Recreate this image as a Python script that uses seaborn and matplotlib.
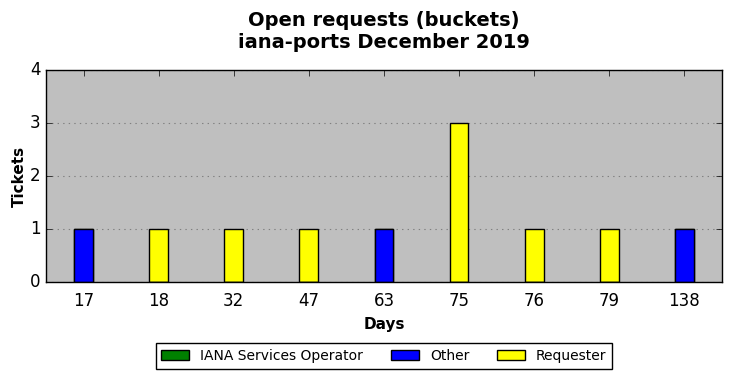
import numpy as np
import pandas as pd
import matplotlib
matplotlib.use("Agg")
import matplotlib.pyplot as plt
import seaborn as sns
from matplotlib.patches import Patch

days = ["17", "18", "32", "47", "63", "75", "76", "79", "138"]
iana = [0, 0, 0, 0, 0, 0, 0, 0, 0]
other = [1, 0, 0, 0, 1, 0, 0, 0, 1]
requester = [0, 1, 1, 1, 0, 3, 1, 1, 0]

series_names = ["IANA Services Operator", "Other", "Requester"]
series_colors = ["green", "blue", "yellow"]

plt.style.use("classic")
plt.rcParams["font.family"] = ["DejaVu Sans"]

df = pd.DataFrame({"Days": days, "IANA": iana, "Other": other, "Requester": requester})
# cumulative tops for stacking: draw tallest first, then overlay the lower ones
df["top_req"] = df["IANA"] + df["Other"] + df["Requester"]
df["top_other"] = df["IANA"] + df["Other"]
df["top_iana"] = df["IANA"]

fig = plt.figure(figsize=(7.32, 3.78), dpi=100, facecolor="white")
ax = fig.add_axes([0.0628, 0.254, 0.9235, 0.561])
ax.set_facecolor("#bfbfbf")

for col, color in [("top_req", "yellow"), ("top_other", "blue"), ("top_iana", "green")]:
    sns.barplot(data=df, x="Days", y=col, order=days, color=color, width=0.25,
                edgecolor="black", linewidth=1, saturation=1, ax=ax, zorder=3)

ax.set_ylim(0, 4)
ax.set_xlim(-0.5, len(days) - 0.5)
ax.set_yticks([0, 1, 2, 3, 4])
ax.yaxis.grid(True, linestyle=":", color="0.5", linewidth=0.8, zorder=0)
ax.xaxis.grid(False)
ax.set_axisbelow(True)
ax.tick_params(direction="in", top=True, right=True, labelsize=12)
ax.tick_params(axis="x", pad=7)

ax.set_xlabel("Days", fontsize=11, fontweight="bold")
ax.set_ylabel("Tickets", fontsize=11, fontweight="bold", labelpad=2)
ax.set_title("Open requests (buckets)\niana-ports December 2019",
             fontsize=14, fontweight="bold", pad=16)

handles = [Patch(facecolor=c, edgecolor="black", label=n) for n, c in zip(series_names, series_colors)]
ax.legend(handles=handles, loc="upper center", bbox_to_anchor=(0.5, -0.257), ncol=3,
          fontsize=10, frameon=True, fancybox=False, handlelength=2.0, columnspacing=2.0,
          borderpad=0.4)

fig.savefig("out.png", dpi=100, facecolor="white")
